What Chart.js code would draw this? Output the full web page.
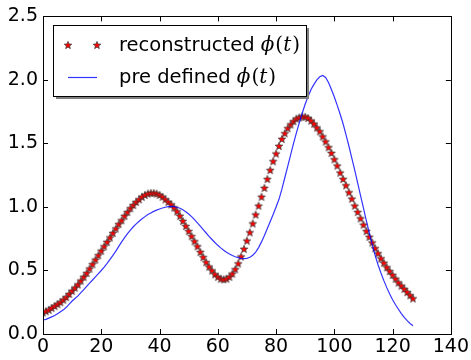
<!DOCTYPE html>
<html>
<head>
<meta charset="utf-8">
<script src="https://cdn.jsdelivr.net/npm/chart.js@4"></script>
<style>
  body { margin: 0; background: #fff; }
  #wrap { width: 471px; height: 360px; }
</style>
</head>
<body>
<div id="wrap"><canvas id="phiChart" width="471" height="360"></canvas></div>
<script>
// sample times t
const t = [0,1,2,3,4,5,6,7,8,9,10,11,12,13,14,15,16,17,18,19,20,21,22,23,24,25,26,27,28,29,
  30,31,32,33,34,35,36,37,38,39,40,41,42,43,44,45,46,47,48,49,50,51,52,53,54,55,56,57,58,59,
  60,61,62,63,64,65,66,67,68,69,70,71,72,73,74,75,76,77,78,79,80,81,82,83,84,85,86,87,88,89,
  90,91,92,93,94,95,96,97,98,99,100,101,102,103,104,105,106,107,108,109,110,111,112,113,114,
  115,116,117,118,119,120,121,122,123,124,125,126,127];

// reconstructed phi(t)
const reconstructed = [0.17,0.18,0.19,0.205,0.22,0.235,0.25,0.27,0.29,0.315,
  0.34,0.365,0.39,0.42,0.45,0.48,0.515,0.55,0.585,0.62,
  0.655,0.69,0.725,0.76,0.795,0.83,0.865,0.895,0.93,0.96,
  0.99,1.015,1.04,1.06,1.08,1.095,1.105,1.11,1.11,1.105,
  1.095,1.08,1.06,1.04,1.02,0.995,0.965,0.93,0.89,0.85,
  0.81,0.77,0.73,0.69,0.645,0.605,0.565,0.53,0.50,0.47,
  0.45,0.435,0.43,0.435,0.45,0.475,0.51,0.555,0.61,0.67,
  0.735,0.80,0.87,0.94,1.01,1.08,1.15,1.22,1.29,1.36,
  1.42,1.48,1.535,1.58,1.62,1.65,1.675,1.695,1.705,1.712,
  1.71,1.70,1.68,1.655,1.625,1.595,1.555,1.515,1.47,1.425,
  1.375,1.325,1.27,1.22,1.17,1.115,1.065,1.01,0.96,0.91,
  0.86,0.81,0.765,0.72,0.675,0.635,0.595,0.56,0.525,0.495,
  0.465,0.435,0.405,0.38,0.355,0.33,0.305,0.28];

// pre defined phi(t)
const predefined = [0.11,0.115,0.125,0.135,0.145,0.16,0.175,0.19,0.21,0.235,
  0.26,0.28,0.30,0.325,0.35,0.375,0.40,0.425,0.45,0.475,
  0.50,0.527,0.556,0.587,0.619,0.652,0.69,0.725,0.758,0.79,
  0.818,0.844,0.867,0.888,0.907,0.924,0.94,0.953,0.965,0.975,
  0.984,0.992,0.998,1.003,1.005,1.003,0.998,0.99,0.978,0.963,
  0.945,0.924,0.90,0.875,0.849,0.822,0.795,0.769,0.744,0.72,
  0.698,0.678,0.66,0.644,0.63,0.618,0.608,0.601,0.596,0.594,
  0.596,0.604,0.62,0.645,0.68,0.725,0.775,0.83,0.885,0.94,
  1.0,1.06,1.14,1.23,1.32,1.41,1.50,1.585,1.665,1.74,
  1.81,1.87,1.925,1.965,2.0,2.025,2.035,2.02,1.98,1.925,
  1.865,1.80,1.73,1.655,1.57,1.48,1.385,1.29,1.19,1.09,
  0.99,0.89,0.795,0.705,0.62,0.545,0.48,0.42,0.365,0.315,
  0.27,0.23,0.195,0.16,0.13,0.105,0.083,0.065];

const xTicks = [0, 20, 40, 60, 80, 100, 120, 140];
const yTicks = [0, 0.5, 1.0, 1.5, 2.0, 2.5];

const tickFont = { family: "DejaVu Sans", size: 19 };

// filled red star with black edge, like matplotlib 'r*'
function makeStar() {
  const c = document.createElement("canvas");
  c.width = 10; c.height = 10;
  const g = c.getContext("2d");
  g.beginPath();
  for (let i = 0; i < 10; i++) {
    const r = i % 2 === 0 ? 4.0 : 1.7;
    const a = -Math.PI / 2 + i * Math.PI / 5;
    const px = 5 + r * Math.cos(a), py = 5.4 + r * Math.sin(a);
    i === 0 ? g.moveTo(px, py) : g.lineTo(px, py);
  }
  g.closePath();
  g.fillStyle = "#ff0000";
  g.fill();
  g.lineWidth = 0.7;
  g.strokeStyle = "#333";
  g.stroke();
  return c;
}
const star = makeStar();

const frame = {
  id: "frame",
  afterDraw(chart) {
    const { ctx, chartArea: a, scales } = chart;
    ctx.save();
    ctx.strokeStyle = "#000";
    ctx.lineWidth = 1;
    ctx.strokeRect(Math.round(a.left) + 0.5, Math.round(a.top) + 0.5,
      Math.round(a.right - a.left), Math.round(a.bottom - a.top));
    // inward ticks on all sides
    ctx.beginPath();
    xTicks.forEach(v => {
      const x = Math.round(scales.x.getPixelForValue(v)) + 0.5;
      ctx.moveTo(x, a.bottom); ctx.lineTo(x, a.bottom - 5);
      ctx.moveTo(x, a.top); ctx.lineTo(x, a.top + 5);
    });
    yTicks.forEach(v => {
      const y = Math.round(scales.y.getPixelForValue(v)) + 0.5;
      ctx.moveTo(a.left, y); ctx.lineTo(a.left + 5, y);
      ctx.moveTo(a.right, y); ctx.lineTo(a.right - 5, y);
    });
    ctx.stroke();

    // legend box with shadow
    const bx = 53, by = 25, bw = 253, bh = 71;
    ctx.fillStyle = "#7f7f7f";
    ctx.fillRect(bx + 3, by + 3, bw, bh);
    ctx.fillStyle = "#fff";
    ctx.fillRect(bx, by, bw, bh);
    ctx.strokeRect(bx + 0.5, by + 0.5, bw, bh);

    ctx.drawImage(star, 63, 40);
    ctx.drawImage(star, 92, 40);
    ctx.strokeStyle = "rgba(0,0,255,0.8)";
    ctx.lineWidth = 1.2;
    ctx.beginPath();
    ctx.moveTo(68, 77.5); ctx.lineTo(97, 77.5);
    ctx.stroke();

    ctx.fillStyle = "#000";
    ctx.textBaseline = "alphabetic";
    const rows = [["reconstructed ", 51], ["pre defined ", 83]];
    rows.forEach(([label, y]) => {
      let x = 119;
      ctx.font = "19.5px 'DejaVu Sans'";
      ctx.fillText(label, x, y);
      x += ctx.measureText(label).width;
      ctx.font = "italic 20px 'DejaVu Serif'";
      ctx.fillText("ϕ", x, y);
      x += ctx.measureText("ϕ").width + 1;
      ctx.font = "20px 'DejaVu Serif'";
      ctx.fillText("(", x, y);
      x += ctx.measureText("(").width;
      ctx.font = "italic 20px 'DejaVu Serif'";
      ctx.fillText("t", x, y);
      x += ctx.measureText("t").width + 1;
      ctx.font = "20px 'DejaVu Serif'";
      ctx.fillText(")", x, y);
    });
    ctx.restore();
  }
};

new Chart(document.getElementById("phiChart"), {
  type: "scatter",
  data: {
    datasets: [
      {
        label: "reconstructed",
        data: reconstructed.map((v, i) => ({ x: t[i], y: v })),
        pointStyle: star,
        pointRadius: 4,
        showLine: false,
        order: 1
      },
      {
        label: "pre defined",
        data: predefined.map((v, i) => ({ x: t[i], y: v })),
        showLine: true,
        borderColor: "rgba(0,0,255,0.8)",
        borderWidth: 1.2,
        pointRadius: 0,
        tension: 0,
        order: 0
      }
    ]
  },
  options: {
    responsive: false,
    animation: false,
    layout: { padding: { top: 16, right: 18, left: 0, bottom: 0 } },
    plugins: { legend: { display: false }, tooltip: { enabled: false } },
    scales: {
      x: {
        type: "linear", min: 0, max: 140,
        grid: { display: false, drawTicks: false },
        border: { display: false },
        afterFit: s => { s.height = 26; },
        afterBuildTicks: s => { s.ticks = xTicks.map(v => ({ value: v })); },
        ticks: { color: "#000", font: tickFont, padding: 2, maxRotation: 0 }
      },
      y: {
        min: 0, max: 2.5,
        grid: { display: false, drawTicks: false },
        border: { display: false },
        afterFit: s => { s.width = 43; },
        afterBuildTicks: s => { s.ticks = yTicks.map(v => ({ value: v })); },
        ticks: { color: "#000", font: tickFont, padding: 5, callback: v => v.toFixed(1) }
      }
    }
  },
  plugins: [frame]
});
</script>
</body>
</html>
